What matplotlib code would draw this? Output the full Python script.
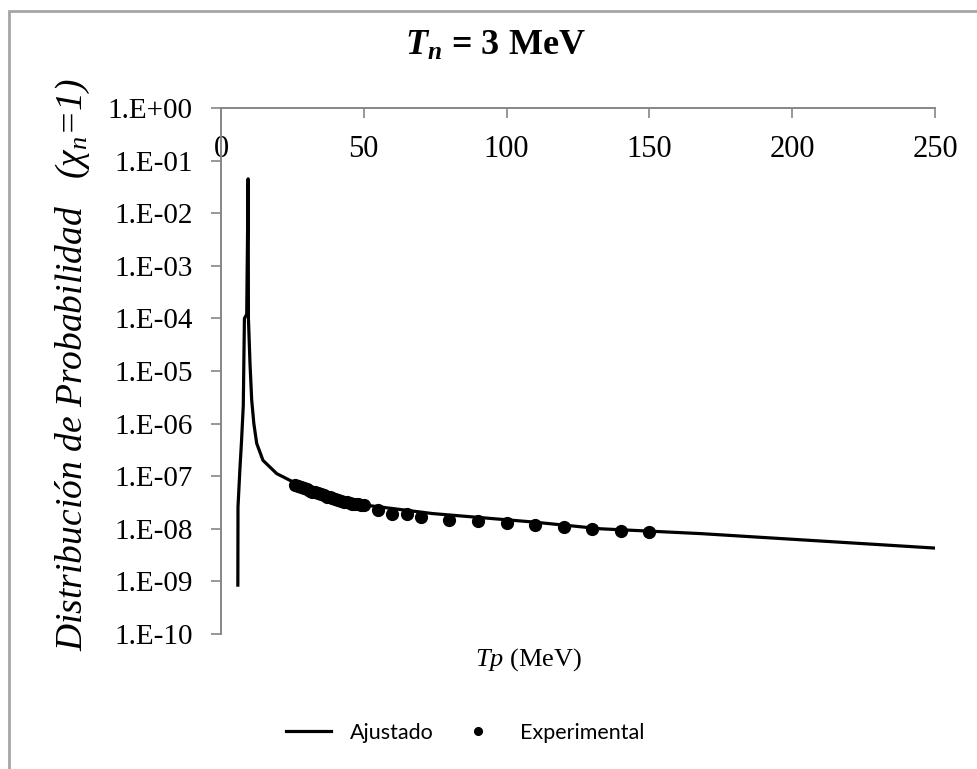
import math
import matplotlib.pyplot as plt
import matplotlib.patches as mpatches
from matplotlib.ticker import FixedLocator, FuncFormatter, NullLocator

# Curva ajustada (Tp en MeV, probabilidad)
ajuste_tp = [5.9, 5.95, 6.6, 7.2, 7.8, 8.2, 9.0, 9.5, 9.6, 10.15, 10.75, 11.5,
             12.5, 14.7, 19.5, 25.2, 39, 51, 74, 109, 133, 168, 250]
ajuste_p = [8.5e-10, 2.6e-8, 1.3e-7, 4.8e-7, 2.2e-6, 1.0e-4, 1.2e-4, 4.5e-2,
            1.0e-4, 1.4e-5, 2.8e-6, 1.0e-6, 4.2e-7, 2.0e-7, 1.12e-7, 7.8e-8,
            4.1e-8, 2.8e-8, 1.95e-8, 1.35e-8, 1.0e-8, 8.1e-9, 4.3e-9]

# Puntos experimentales
exp_tp = [26, 27, 28, 29, 30, 31, 32, 33, 34, 35, 36, 37, 38, 39, 40, 41, 42,
          43, 44, 45, 46, 47, 48, 49, 50,
          55, 60, 65, 70, 80, 90, 100, 110, 120, 130, 140, 150]
exp_p = [6.8e-8, 6.5e-8, 6.2e-8, 5.9e-8, 5.6e-8, 5.3e-8, 5.1e-8, 4.9e-8,
         4.7e-8, 4.5e-8, 4.3e-8, 4.1e-8, 3.95e-8, 3.8e-8, 3.65e-8, 3.5e-8,
         3.4e-8, 3.3e-8, 3.2e-8, 3.1e-8, 3.0e-8, 2.95e-8, 2.9e-8, 2.85e-8,
         2.8e-8,
         2.3e-8, 1.95e-8, 1.9e-8, 1.7e-8, 1.5e-8, 1.39e-8, 1.3e-8, 1.17e-8,
         1.09e-8, 9.7e-9, 9.1e-9, 8.7e-9]

x_ticks = [0, 50, 100, 150, 200, 250]
y_ticks = [10.0 ** e for e in range(-10, 1)]

plt.rcParams['font.family'] = ['Liberation Serif', 'DejaVu Serif']
plt.rcParams['mathtext.fontset'] = 'custom'
plt.rcParams['mathtext.rm'] = 'Liberation Serif'
plt.rcParams['mathtext.it'] = 'Liberation Serif:italic'
plt.rcParams['mathtext.bf'] = 'Liberation Serif:bold'
plt.rcParams['mathtext.bfit'] = 'Liberation Serif:italic:bold'

W, H = 977, 769
fig = plt.figure(figsize=(W / 100, H / 100), dpi=100)
ax = fig.add_axes([221 / W, 1 - 634 / H, (935 - 221) / W, (634 - 108) / H])

grey = '#868686'

ax.plot(ajuste_tp, ajuste_p, color='black', lw=2.3, label='Ajustado', zorder=3)
ax.plot(exp_tp, exp_p, 'o', color='black', ms=8.5, label='Experimental', zorder=4)

ax.set_yscale('log')
ax.set_xlim(0, 250)
ax.set_ylim(1e-10, 1)

ax.yaxis.set_major_locator(FixedLocator(y_ticks))
ax.yaxis.set_minor_locator(NullLocator())
ax.yaxis.set_major_formatter(FuncFormatter(
    lambda v, p: '1.E{:+03d}'.format(int(round(math.log10(v))))))
ax.xaxis.set_major_locator(FixedLocator(x_ticks))

ax.xaxis.tick_top()
ax.tick_params(axis='x', direction='in', length=7.5, width=1.2, color=grey,
               labelsize=22, pad=-40)
ax.tick_params(axis='y', direction='out', length=7.5, width=1.2, color=grey,
               labelsize=21, pad=13)

for s in ['bottom', 'right']:
    ax.spines[s].set_visible(False)
for s in ['top', 'left']:
    ax.spines[s].set_color(grey)
    ax.spines[s].set_linewidth(1.4)

# titulo y etiquetas
fig.text(495 / W, 1 - 46 / H, r'$\mathbfit{T}_{\mathbfit{n}}$ = 3 MeV',
         ha='center', va='center', fontsize=26, fontweight='bold')
fig.text(73 / W, 1 - 365 / H, r'Distribución de Probabilidad   ($\chi_{n}$=1)',
         rotation=90, ha='center', va='center', fontsize=27, style='italic')
fig.text(529 / W, 1 - 660 / H, r'$\mathit{Tp}$ (MeV)', ha='center', va='center',
         fontsize=19)

leg = ax.legend(loc='center', bbox_to_anchor=(465 / W, 1 - 733 / H),
                bbox_transform=fig.transFigure, ncol=2, frameon=False,
                prop={'family': 'Lato', 'size': 15.5}, handlelength=2.1,
                handletextpad=0.9, columnspacing=1.0, markerscale=0.65)

# marco del grafico
fig.patches.append(mpatches.Rectangle((9 / W, -0.1), 1.1, 1 - 11 / H + 0.1,
                                      transform=fig.transFigure, fill=False,
                                      edgecolor='#a6a6a6', lw=2))

fig.savefig('out.png', dpi=100)
